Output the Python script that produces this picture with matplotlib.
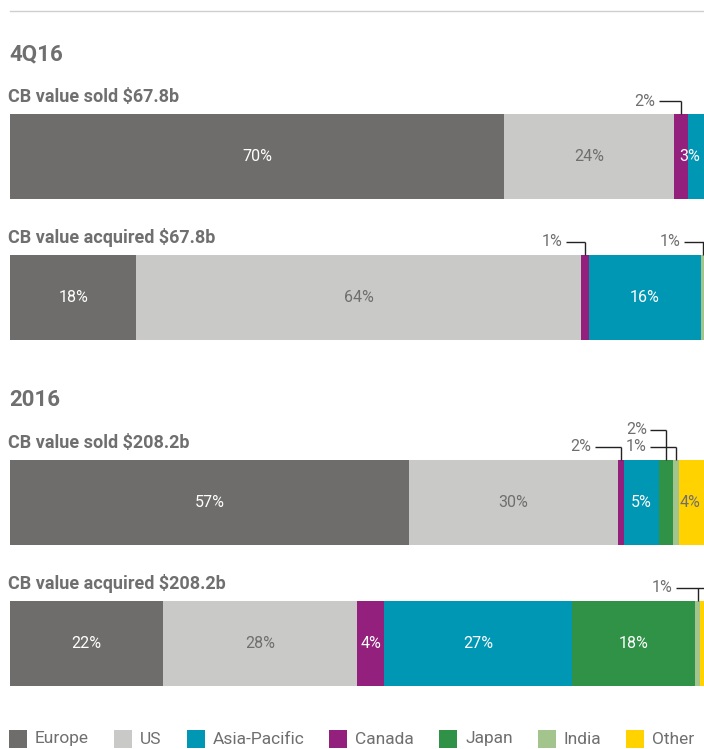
import matplotlib
matplotlib.use("Agg")
import matplotlib.pyplot as plt
from matplotlib.patches import Rectangle

# ---------------------------------------------------------------
# data (segment widths in %)
# ---------------------------------------------------------------
legend_order = ["Europe", "US", "Asia-Pacific", "Canada", "Japan", "India", "Other"]
stack_order = ["Europe", "US", "Canada", "Asia-Pacific", "Japan", "India", "Other"]

section_titles = ["4Q16", "2016"]
bar_titles = ["CB value sold $67.8b", "CB value acquired $67.8b",
              "CB value sold $208.2b", "CB value acquired $208.2b"]

sold_4q16 = [70.0, 24.0, 2.0, 3.0, 0.0, 0.0, 0.0]
sold_4q16_labels = ["70%", "24%", "2%", "3%", "", "", ""]

acq_4q16 = [17.9, 63.0, 1.1, 15.9, 0.0, 0.4, 0.0]
acq_4q16_labels = ["18%", "64%", "1%", "16%", "", "1%", ""]

sold_2016 = [56.5, 29.6, 0.85, 5.0, 1.9, 0.95, 4.0]
sold_2016_labels = ["57%", "30%", "2%", "5%", "2%", "1%", "4%"]

acq_2016 = [21.7, 27.5, 3.8, 26.6, 17.4, 0.8, 1.0]
acq_2016_labels = ["22%", "28%", "4%", "27%", "18%", "1%", ""]

# ---------------------------------------------------------------
# styling
# ---------------------------------------------------------------
colors = {
    "Europe": "#6e6d6b",
    "US": "#c9c9c7",
    "Asia-Pacific": "#0097b5",
    "Canada": "#93207d",
    "Japan": "#2f9247",
    "India": "#a3c58d",
    "Other": "#ffd200",
}
light_text = {"US", "Other"}
GREY = "#6f6f6f"
FONT = "Roboto"

W, H = 704, 749
PX_PER_PCT = 7.06
BAR_LEFT = 10
BAR_H = 85

# bar top pixel, callouts: (segment name, text end in %, level)
bars = [
    (sold_4q16, sold_4q16_labels, 114, [("Canada", 91.4, 0)]),
    (acq_4q16, acq_4q16_labels, 255, [("Canada", 78.2, 0), ("India", 95.0, 0)]),
    (sold_2016, sold_2016_labels, 460, [("Canada", 82.4, 0), ("Japan", 90.2, 1),
                                        ("India", 90.2, 0)]),
    (acq_2016, acq_2016_labels, 601, [("India", 93.9, 0)]),
]
title_y = [102, 243, 448, 589]
section_y = [60, 406]

fig = plt.figure(figsize=(W / 100, H / 100), dpi=100)


def fx(px):
    return px / W


def fy(py):
    return 1 - py / H


# thin rule at the top
fig.add_artist(plt.Line2D([fx(10), fx(704)], [fy(11), fy(11)], color="#cfcfcf", lw=1))

for t, y in zip(section_titles, section_y):
    fig.text(fx(9), fy(y), t, fontsize=16, fontweight="bold", color=GREY,
             family=FONT, va="baseline")
for t, y in zip(bar_titles, title_y):
    fig.text(fx(8), fy(y), t, fontsize=13, fontweight="bold", color=GREY,
             family=FONT, va="baseline")

for values, labels, top, callouts in bars:
    ax = fig.add_axes([fx(BAR_LEFT), fy(top + BAR_H), 100 * PX_PER_PCT / W, BAR_H / H])
    ax.set_xlim(0, 100)
    ax.set_ylim(0, 1)
    ax.axis("off")
    left = 0.0
    centers = {}
    for name, v, lab in zip(stack_order, values, labels):
        if v <= 0:
            continue
        ax.barh(0.5, v, left=left, height=1.0, color=colors[name], linewidth=0)
        c = left + v / 2
        centers[name] = c
        if lab and v >= 2.5:
            # the last sliver runs off the page, keep its label inside
            cx = min(c, 96.3)
            ax.text(cx, 0.5, lab, ha="center", va="center", fontsize=11.5,
                    color=GREY if name in light_text else "white", family=FONT)
        left += v
    for name, tx, level in callouts:
        c = centers[name]
        ly = 1 + (13 + 17 * level) / BAR_H
        x0 = tx + 0.5
        x1 = c + 1.0 if c > 97 else c
        ax.plot([x0, x1], [ly, ly], color="#222222", lw=1, clip_on=False,
                solid_capstyle="butt")
        ax.plot([c, c], [ly, 1.0], color="#222222", lw=1, clip_on=False,
                solid_capstyle="butt")
        lab = labels[stack_order.index(name)]
        ax.text(tx, ly, lab, ha="right", va="center", fontsize=11.5,
                color=GREY, family=FONT)

# legend drawn by hand along the bottom
lax = fig.add_axes([0, 0, 1, 1], facecolor="none")
lax.set_xlim(0, W)
lax.set_ylim(H, 0)
lax.axis("off")
fig.canvas.draw()
renderer = fig.canvas.get_renderer()
x = 9
for name in legend_order:
    lax.add_patch(Rectangle((x, 730), 18, 18, color=colors[name], lw=0))
    t = lax.text(x + 26, 739, name, fontsize=12.5, color=GREY, family=FONT,
                 va="center", ha="left")
    bb = t.get_window_extent(renderer)
    x = x + 26 + bb.width + 25

fig.savefig("out.png", dpi=100)
